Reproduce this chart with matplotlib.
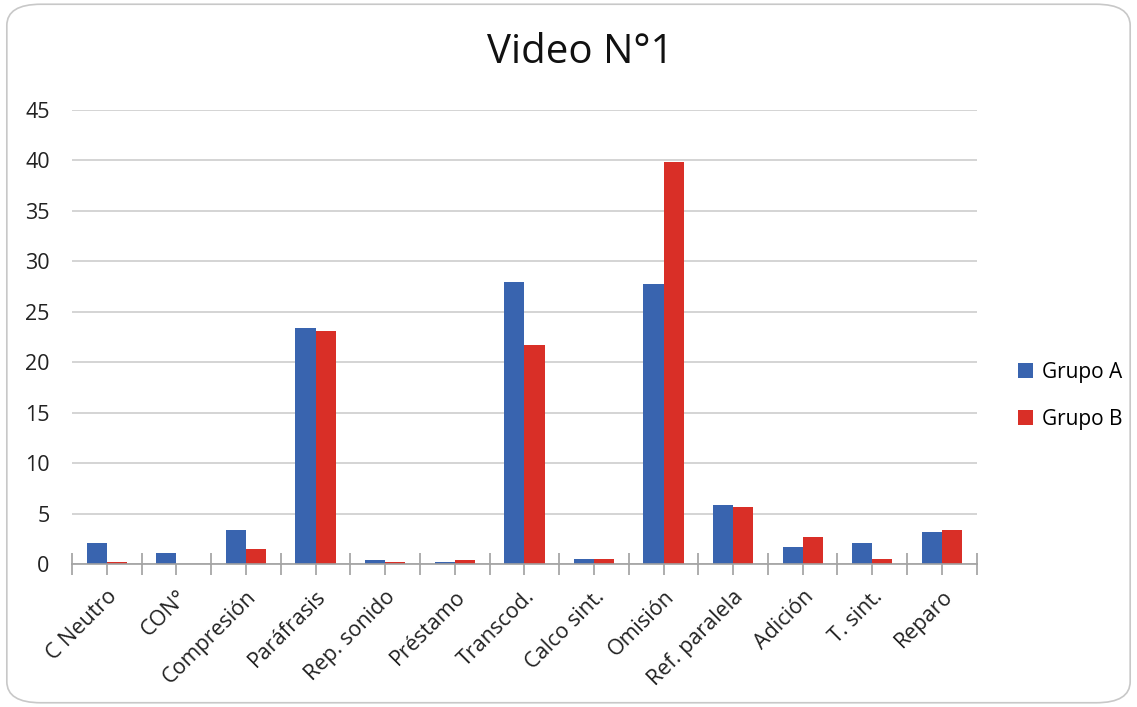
import matplotlib.pyplot as plt
import numpy as np
from matplotlib.patches import FancyBboxPatch

plt.rcParams['font.family'] = ['Open Sans', 'DejaVu Sans']

categories = ['C Neutro', 'CON°', 'Compresión', 'Paráfrasis', 'Rep. sonido',
              'Préstamo', 'Transcod.', 'Calco sint.', 'Omisión', 'Ref. paralela',
              'Adición', 'T. sint.', 'Reparo']
grupo_a = [2.1, 1.1, 3.4, 23.4, 0.4, 0.2, 28.0, 0.5, 27.8, 5.8, 1.7, 2.1, 3.2]
grupo_b = [0.2, 0.0, 1.5, 23.1, 0.2, 0.4, 21.7, 0.5, 39.8, 5.6, 2.7, 0.5, 3.4]
y_ticks = [0, 5, 10, 15, 20, 25, 30, 35, 40, 45]

color_a = '#3964AF'
color_b = '#D92F27'

fig = plt.figure(figsize=(11.37, 7.07), dpi=100)

# rounded frame around the whole chart
frame = FancyBboxPatch((0.006, 0.006), 0.988, 0.988, boxstyle='round,pad=0,rounding_size=0.03',
                       transform=fig.transFigure, facecolor='white', edgecolor='#C8C8C8',
                       linewidth=1.2, zorder=-10)
fig.add_artist(frame)

ax = fig.add_axes([0.0633, 0.2023, 0.7957, 0.6421])
ax.set_facecolor('none')

x = np.arange(len(categories))
w = 0.29
ax.bar(x - w / 2, grupo_a, width=w, color=color_a, label='Grupo A', zorder=3)
ax.bar(x + w / 2, grupo_b, width=w, color=color_b, label='Grupo B', zorder=3)

ax.set_xlim(-0.5, len(categories) - 0.5)
ax.set_ylim(0, 45)
ax.set_yticks(y_ticks)
ax.yaxis.grid(True, color='#C9C9C9', linewidth=1.1, zorder=0)
ax.tick_params(axis='y', length=0, pad=16, labelsize=15.5, labelcolor='#222222')

# category boundary ticks across the axis, centre ticks below it
ax.set_xticks(np.arange(-0.5, len(categories)), minor=False)
ax.set_xticklabels([''] * (len(categories) + 1))
ax.set_xticks(x, minor=True)
ax.set_xticklabels(categories, minor=True, rotation=45, ha='right',
                   rotation_mode='anchor', fontsize=15.5, color='#222222')
ax.tick_params(axis='x', which='major', direction='inout', length=16, width=1.2, color='#A0A0A0')
ax.tick_params(axis='x', which='minor', direction='out', length=8, width=1.2,
               color='#A0A0A0', pad=8)

for s in ['top', 'right', 'left']:
    ax.spines[s].set_visible(False)
ax.spines['bottom'].set_color('#A0A0A0')
ax.spines['bottom'].set_linewidth(1.2)
ax.spines['bottom'].set_zorder(4)

fig.text(0.51, 0.925, 'Video N°1', ha='center', va='center', fontsize=29, color='#111111')

ax.legend(loc='center left', bbox_to_anchor=(1.046, 0.371), borderaxespad=0, borderpad=0,
          frameon=False, fontsize=15, handlelength=0.7, handleheight=0.7,
          handletextpad=0.45, labelspacing=1.25)

fig.savefig('out.png', dpi=100)
